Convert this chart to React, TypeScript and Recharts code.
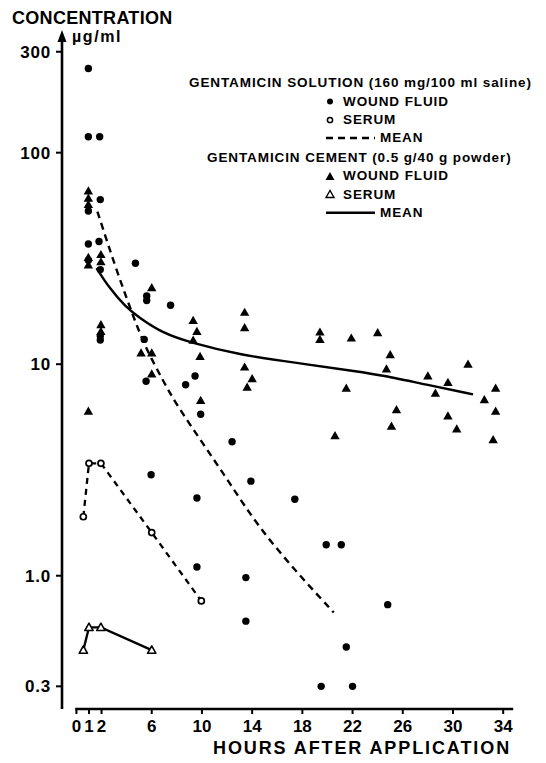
import type { CSSProperties } from "react";
import {
  ComposedChart,
  Line,
  ReferenceDot,
  ReferenceLine,
  Scatter,
  XAxis,
  YAxis,
} from "recharts";

const FONT = '"Liberation Sans", Arial, Helvetica, sans-serif';

const xTicks = [0, 1, 2, 6, 10, 14, 18, 22, 26, 30, 34];
const yTicks = [0.3, 1, 10, 100, 300];
const yTickLabels = ["0.3", "1.0", "10", "100", "300"];

const X_MIN = -1.15;
const X_MAX = 35.5;
const Y_MIN = 0.2344;
const Y_MAX = 360;

// [hours after application, concentration µg/ml]
const solutionWound = [
  [0.95, 250], [0.95, 119], [1.85, 119], [1.9, 60], [0.95, 53],
  [0.95, 37], [1.8, 38], [0.95, 31], [1.9, 28], [4.7, 30],
  [5.6, 21], [5.6, 20], [7.5, 19], [1.9, 13.6], [1.9, 13],
  [5.4, 13.1], [5.55, 8.3], [9.45, 8.8], [8.7, 8.0], [9.9, 5.8],
  [12.4, 4.3], [5.95, 3.0], [13.9, 2.8], [9.6, 2.33], [17.4, 2.3],
  [19.9, 1.4], [21.1, 1.4], [9.6, 1.1], [13.5, 0.98], [24.8, 0.73],
  [13.5, 0.61], [21.5, 0.46], [19.5, 0.3], [22.0, 0.3],
];
const solutionSerum = [[0.55, 1.9], [1.0, 3.4], [1.95, 3.4], [6.0, 1.6], [9.95, 0.76]];
const solutionMean = [
  [1.67, 52.6], [2.02, 45.5], [3.21, 27.6], [4.53, 16.8], [5.47, 12.1],
  [6.92, 8.3], [8.0, 6.4], [10.1, 4.2], [12.2, 2.75], [14.5, 1.7],
  [17.6, 1.03], [20.5, 0.67],
];

const cementWound = [
  [0.95, 66], [0.95, 61], [0.95, 57], [0.95, 32], [0.95, 29.5],
  [1.95, 33], [1.95, 30.5], [0.95, 6.0], [1.95, 15.4], [1.95, 14.3],
  [6.0, 23], [5.15, 11.3], [6.0, 11.3], [6.0, 9.0], [9.3, 16.1],
  [9.6, 14.3], [9.3, 13.0], [9.85, 10.9], [9.9, 6.75], [13.4, 17.6],
  [13.4, 14.9], [13.4, 9.7], [14.0, 8.55], [13.6, 7.8], [19.4, 14.2],
  [19.4, 13.1], [21.9, 13.3], [21.5, 7.7], [20.6, 4.6], [24.0, 14.1],
  [25.0, 11.1], [24.7, 9.5], [25.5, 6.1], [25.1, 5.1], [28.0, 8.8],
  [28.6, 7.3], [29.6, 8.2], [29.6, 5.7], [30.3, 4.95], [31.2, 10],
  [32.5, 6.8], [33.4, 7.7], [33.4, 6.0], [33.2, 4.4],
];
const cementSerum = [[0.55, 0.445], [1.0, 0.57], [1.95, 0.57], [6.0, 0.445]];
const cementMean = [
  [1.6, 28.5], [2.6, 23], [3.9, 18.7], [5.0, 16.6], [6.9, 14],
  [9.0, 12.7], [13.0, 11.05], [17.8, 10.1], [22.6, 9.2], [24.2, 8.9],
  [27.9, 8.0], [31.6, 7.2],
];

const pts = (pairs: number[][]) => pairs.map(([x, y]) => ({ x, y }));

type ShapeProps = { cx?: number; cy?: number };

function FilledDot({ cx = 0, cy = 0 }: ShapeProps) {
  return <circle cx={cx} cy={cy} r={3.7} fill="#000" />;
}
function OpenDot({ cx = 0, cy = 0 }: ShapeProps) {
  return <circle cx={cx} cy={cy} r={3} fill="#fff" stroke="#000" strokeWidth={1.7} />;
}
function FilledTri({ cx = 0, cy = 0 }: ShapeProps) {
  return (
    <polygon
      points={`${cx},${cy - 4.6} ${cx - 4.7},${cy + 3.6} ${cx + 4.7},${cy + 3.6}`}
      fill="#000"
    />
  );
}
function OpenTri({ cx = 0, cy = 0 }: ShapeProps) {
  return (
    <polygon
      points={`${cx},${cy - 4.2} ${cx - 4.2},${cy + 3.2} ${cx + 4.2},${cy + 3.2}`}
      fill="#fff"
      stroke="#000"
      strokeWidth={1.6}
      strokeLinejoin="round"
    />
  );
}
function AxisArrow({ cx = 0, cy = 0 }: ShapeProps) {
  return (
    <polygon
      points={`${cx},${cy - 5} ${cx - 4.5},${cy + 7} ${cx + 4.5},${cy + 7}`}
      fill="#000"
    />
  );
}

function XTick({ x, y, payload }: any) {
  return (
    <text
      x={x}
      y={y}
      dy="0.71em"
      textAnchor="middle"
      fontFamily={FONT}
      fontSize={17}
      fontWeight={700}
      fill="#000"
    >
      {payload.value}
    </text>
  );
}

function YTick({ x, y, payload }: any) {
  const i = yTicks.indexOf(payload.value);
  return (
    <text
      x={x}
      y={y}
      dy="0.36em"
      textAnchor="end"
      fontFamily={FONT}
      fontSize={17}
      fontWeight={700}
      letterSpacing={0.8}
      fill="#000"
    >
      {yTickLabels[i]}
    </text>
  );
}

export default function App() {
  return (
    <div style={styles.page}>
      <ComposedChart
        width={546}
        height={763}
        margin={{ top: 35, right: 24, left: 0, bottom: 0 }}
      >
        <XAxis
          dataKey="x"
          type="number"
          domain={[X_MIN, X_MAX]}
          ticks={xTicks}
          allowDataOverflow
          axisLine={false}
          tickLine={{ stroke: "#000", strokeWidth: 2 }}
          tickSize={5}
          tickMargin={6}
          tick={XTick}
          height={54}
          interval={0}
        />
        <YAxis
          dataKey="y"
          type="number"
          scale="log"
          domain={[Y_MIN, Y_MAX]}
          ticks={yTicks}
          allowDataOverflow
          axisLine={{ stroke: "#000", strokeWidth: 2.6 }}
          tickLine={{ stroke: "#000", strokeWidth: 2 }}
          tickSize={6}
          tickMargin={5}
          tick={YTick}
          width={62}
          interval={0}
        />
        <ReferenceLine
          segment={[
            { x: -0.1, y: Y_MIN },
            { x: 34.8, y: Y_MIN },
          ]}
          stroke="#000"
          strokeWidth={2.6}
          ifOverflow="visible"
        />
        <ReferenceDot
          x={X_MIN}
          y={Y_MAX}
          r={5}
          shape={AxisArrow}
          ifOverflow="visible"
        />
        <Line
          data={pts(solutionMean)}
          dataKey="y"
          type="basis"
          stroke="#000"
          strokeWidth={2.4}
          strokeDasharray="7 5"
          dot={false}
          activeDot={false}
          isAnimationActive={false}
        />
        <Line
          data={pts(cementMean)}
          dataKey="y"
          type="basis"
          stroke="#000"
          strokeWidth={2.4}
          dot={false}
          activeDot={false}
          isAnimationActive={false}
        />
        <Line
          data={pts(solutionSerum)}
          dataKey="y"
          type="linear"
          stroke="#000"
          strokeWidth={2.3}
          strokeDasharray="6 5"
          dot={false}
          activeDot={false}
          isAnimationActive={false}
        />
        <Line
          data={pts(cementSerum)}
          dataKey="y"
          type="linear"
          stroke="#000"
          strokeWidth={2.3}
          dot={false}
          activeDot={false}
          isAnimationActive={false}
        />
        <Scatter data={pts(solutionWound)} shape={FilledDot} isAnimationActive={false} />
        <Scatter data={pts(cementWound)} shape={FilledTri} isAnimationActive={false} />
        <Scatter data={pts(solutionSerum)} shape={OpenDot} isAnimationActive={false} />
        <Scatter data={pts(cementSerum)} shape={OpenTri} isAnimationActive={false} />
      </ComposedChart>

      <svg width={546} height={763} style={styles.overlay}>
        <g fontFamily={FONT} fontWeight={700} fill="#000">
          <text x={12} y={24} fontSize={18} letterSpacing={0.3}>
            CONCENTRATION
          </text>
          <text x={72} y={42} fontSize={16} letterSpacing={1.6}>
            µg/ml
          </text>
          <text x={213} y={754} fontSize={18} letterSpacing={1.9}>
            HOURS AFTER APPLICATION
          </text>

          <g fontSize={13.5} letterSpacing={0.9}>
            <text x={189} y={87}>GENTAMICIN SOLUTION (160 mg/100 ml saline)</text>
            <text x={343} y={105.5}>WOUND FLUID</text>
            <text x={343} y={124}>SERUM</text>
            <text x={380} y={142}>MEAN</text>
            <text x={207} y={161.5}>GENTAMICIN CEMENT (0.5 g/40 g powder)</text>
            <text x={343} y={180}>WOUND FLUID</text>
            <text x={343} y={198.5}>SERUM</text>
            <text x={380} y={216.7}>MEAN</text>
          </g>
          <circle cx={330} cy={101.5} r={3} fill="#000" />
          <circle cx={330} cy={120} r={2.6} fill="#fff" stroke="#000" strokeWidth={1.5} />
          <line x1={326} y1={138} x2={375} y2={138} stroke="#000" strokeWidth={2.4} strokeDasharray="7 5" />
          <polygon points="330,172 325.5,180 334.5,180" fill="#000" />
          <polygon points="330,190.5 326,197.5 334,197.5" fill="#fff" stroke="#000" strokeWidth={1.4} />
          <line x1={326} y1={212.7} x2={375} y2={212.7} stroke="#000" strokeWidth={2.4} />
        </g>
      </svg>
    </div>
  );
}

const styles: Record<string, CSSProperties> = {
  page: {
    position: "absolute",
    left: 0,
    top: 0,
    width: 546,
    height: 763,
    background: "#fff",
  },
  overlay: {
    position: "absolute",
    left: 0,
    top: 0,
    pointerEvents: "none",
  },
};
